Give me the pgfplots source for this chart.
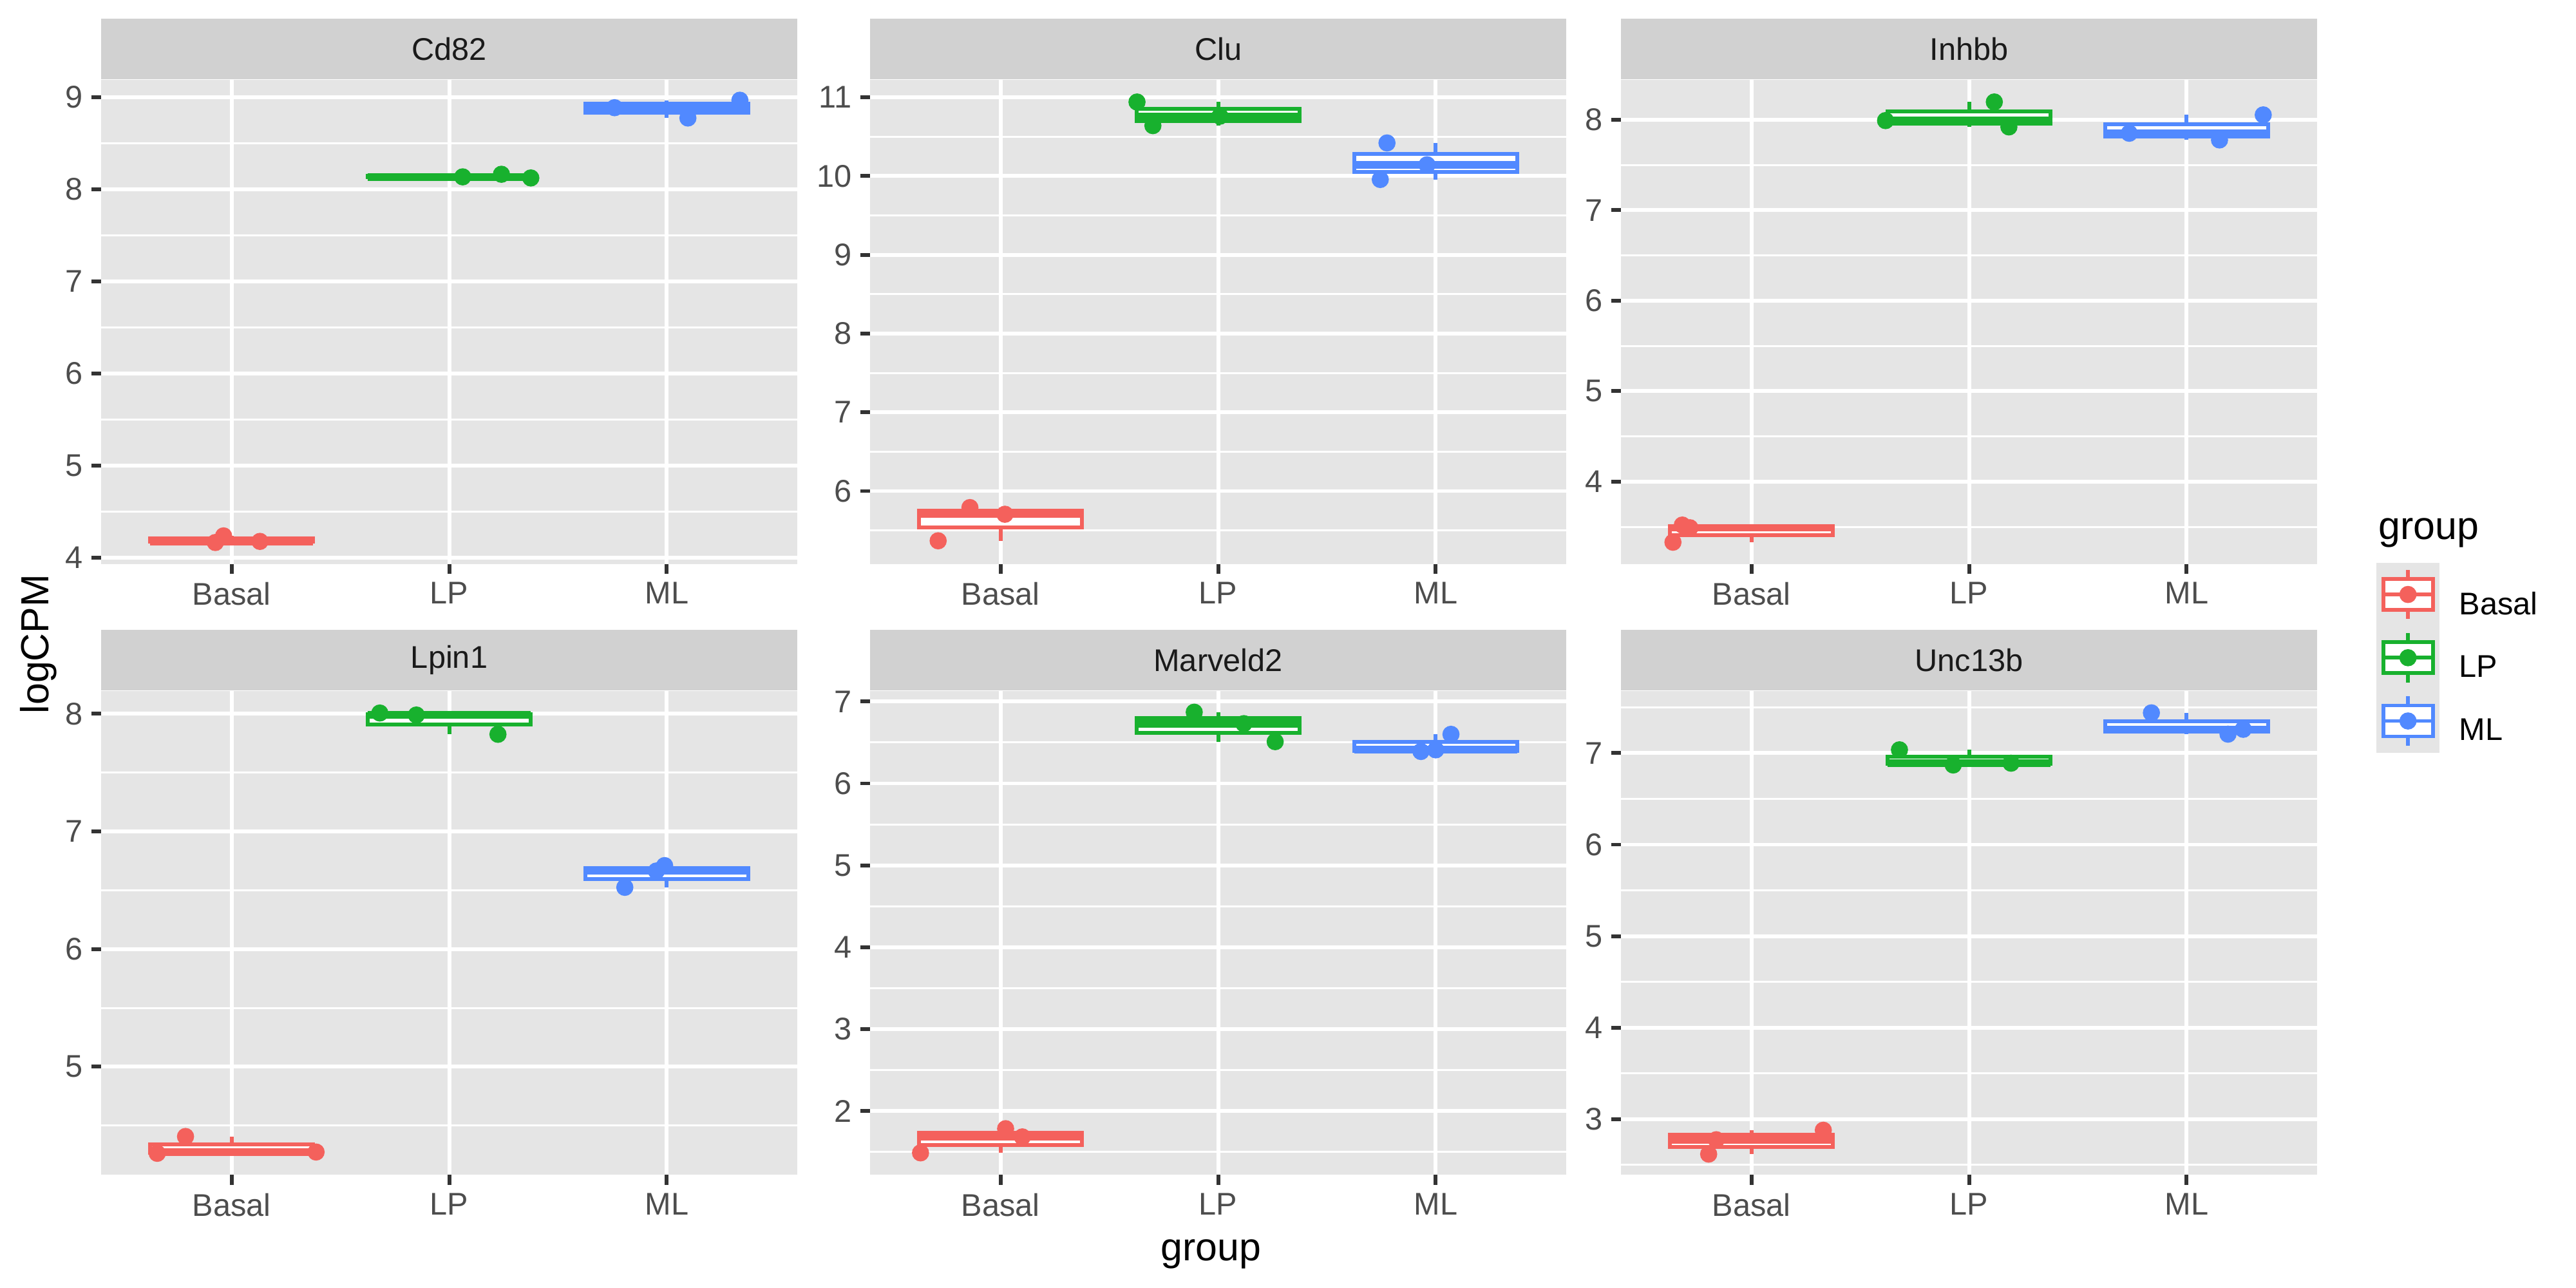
\documentclass[border=0pt]{standalone}
\usepackage{fontspec}
\setmainfont{Liberation Sans}
\usepackage{pgfplots}
\pgfplotsset{compat=1.18}
\usepgfplotslibrary{statistics}

\definecolor{panelgray}{HTML}{E5E5E5}
\definecolor{stripgray}{HTML}{D1D1D1}
\definecolor{grey10}{HTML}{1A1A1A}
\definecolor{grey20}{HTML}{333333}
\definecolor{grey30}{HTML}{4D4D4D}
\definecolor{cRed}{HTML}{F4615C}
\definecolor{cGreen}{HTML}{18B12E}
\definecolor{cBlue}{HTML}{5189FF}

\newcommand{\ticks}{\fontsize{8.8}{10}\selectfont}
\newcommand{\titlefont}{\fontsize{11}{13}\selectfont}

\pgfplotsset{
  gg/.style={
    anchor=south west,
    scale only axis, width=194.6bp, height=135.3bp,
    xmin=0.4, xmax=3.6, xtick={1,2,3}, xticklabels={Basal,LP,ML},
    axis background/.style={fill=panelgray},
    axis line style={draw=none},
    grid=both,
    major grid style={white, line width=1.07pt},
    minor grid style={white, line width=0.53pt},
    tick align=outside, tickpos=left,
    major tick length=2.75pt, minor tick length=0pt,
    tick style={grey20, line width=1.07pt},
    ticklabel style={font=\ticks, text=grey30},
    xticklabel style={inner sep=0pt, yshift=-2.2pt},
    yticklabel style={inner sep=0pt, xshift=-2.2pt},
    /pgf/number format/assume math mode=true,
    every axis title shift=0pt,
    title style={at={(0.5,1)}, anchor=south, yshift=0pt, fill=stripgray,
      minimum width=194.6bp, minimum height=16.87bp, inner sep=0pt,
      font=\ticks, text=grey10},
    boxplot/draw direction=y,
    boxplot/box extend=0.75,
    boxplot/whisker extend=0,
    boxplot/every median/.style={line width=2.13pt},
  },
  pts/.style={only marks, mark=*, mark size=2.2bp, mark options={draw=none}},
}

% colour, position, lower whisker, Q1, median, Q3, upper whisker
\newcommand{\gbox}[7]{%
  \addplot[#1, fill=white, line width=1.07pt,
    boxplot prepared={draw position=#2, lower whisker=#3, lower quartile=#4,
      median=#5, upper quartile=#6, upper whisker=#7}] coordinates {};}

\begin{document}
\begin{tikzpicture}
\useasboundingbox (0,0) rectangle (720bp,360bp);

% Cd82
\begin{axis}[gg, at={(28.26bp,202.37bp)}, title={Cd82},
  ymin=3.932, ymax=9.189, ytick={4,...,9}, minor ytick={4.5,5.5,...,8.5}]
\gbox{cRed}{1}{4.165}{4.171}{4.177}{4.207}{4.237}
\gbox{cGreen}{2}{8.124}{8.130}{8.136}{8.150}{8.164}
\gbox{cBlue}{3}{8.775}{8.831}{8.887}{8.928}{8.968}
\addplot[pts, cRed] coordinates {(0.925,4.165) (0.963,4.237) (1.130,4.177)};
\addplot[pts, cGreen] coordinates {(2.062,8.136) (2.240,8.164) (2.375,8.124)};
\addplot[pts, cBlue] coordinates {(2.760,8.887) (3.097,8.775) (3.336,8.968)};
\end{axis}

% Clu
\begin{axis}[gg, at={(243.18bp,202.37bp)}, title={Clu},
  ymin=5.074, ymax=11.221, ytick={6,...,11}, minor ytick={5.5,6.5,...,10.5}]
\gbox{cRed}{1}{5.368}{5.537}{5.705}{5.748}{5.790}
\gbox{cGreen}{2}{10.64}{10.70}{10.76}{10.85}{10.94}
\gbox{cBlue}{3}{9.956}{10.050}{10.143}{10.282}{10.420}
\addplot[pts, cRed] coordinates {(0.713,5.368) (0.859,5.790) (1.020,5.705)};
\addplot[pts, cGreen] coordinates {(1.627,10.94) (1.700,10.64) (2.008,10.76)};
\addplot[pts, cBlue] coordinates {(2.776,10.420) (2.745,9.956) (2.960,10.143)};
\end{axis}

% Inhbb
\begin{axis}[gg, at={(453.06bp,202.37bp)}, title={Inhbb},
  ymin=3.09, ymax=8.44, ytick={4,...,8}, minor ytick={3.5,4.5,...,7.5}]
\gbox{cRed}{1}{3.33}{3.41}{3.49}{3.505}{3.52}
\gbox{cGreen}{2}{7.92}{7.955}{7.99}{8.093}{8.196}
\gbox{cBlue}{3}{7.776}{7.813}{7.85}{7.952}{8.053}
\addplot[pts, cRed] coordinates {(0.639,3.33) (0.682,3.52) (0.717,3.49)};
\addplot[pts, cGreen] coordinates {(1.616,7.99) (2.116,8.196) (2.183,7.92)};
\addplot[pts, cBlue] coordinates {(2.736,7.85) (3.151,7.776) (3.352,8.053)};
\end{axis}

% Lpin1
\begin{axis}[gg, at={(28.26bp,31.59bp)}, title={Lpin1},
  ymin=4.08, ymax=8.195, ytick={5,...,8}, minor ytick={4.5,5.5,...,7.5}]
\gbox{cRed}{1}{4.264}{4.270}{4.275}{4.341}{4.407}
\gbox{cGreen}{2}{7.826}{7.908}{7.99}{7.999}{8.007}
\gbox{cBlue}{3}{6.525}{6.595}{6.664}{6.687}{6.71}
\addplot[pts, cRed] coordinates {(0.658,4.264) (0.788,4.407) (1.388,4.275)};
\addplot[pts, cGreen] coordinates {(1.681,8.007) (1.849,7.99) (2.224,7.826)};
\addplot[pts, cBlue] coordinates {(2.807,6.525) (2.952,6.664) (2.990,6.71)};
\end{axis}

% Marveld2
\begin{axis}[gg, at={(243.18bp,31.59bp)}, title={Marveld2},
  ymin=1.22, ymax=7.13, ytick={2,...,7}, minor ytick={1.5,2.5,...,6.5}]
\gbox{cRed}{1}{1.49}{1.588}{1.685}{1.735}{1.785}
\gbox{cGreen}{2}{6.51}{6.62}{6.73}{6.80}{6.87}
\gbox{cBlue}{3}{6.39}{6.40}{6.41}{6.505}{6.60}
\addplot[pts, cRed] coordinates {(0.632,1.49) (1.023,1.785) (1.100,1.685)};
\addplot[pts, cGreen] coordinates {(1.890,6.87) (2.118,6.73) (2.262,6.51)};
\addplot[pts, cBlue] coordinates {(2.932,6.39) (3.000,6.41) (3.070,6.60)};
\end{axis}

% Unc13b
\begin{axis}[gg, at={(453.06bp,31.59bp)}, title={Unc13b},
  ymin=2.39, ymax=7.68, ytick={3,...,7}, minor ytick={2.5,3.5,...,7.5}]
\gbox{cRed}{1}{2.618}{2.697}{2.775}{2.827}{2.879}
\gbox{cGreen}{2}{6.87}{6.88}{6.89}{6.963}{7.036}
\gbox{cBlue}{3}{7.207}{7.234}{7.26}{7.35}{7.44}
\addplot[pts, cRed] coordinates {(0.803,2.618) (0.838,2.775) (1.330,2.879)};
\addplot[pts, cGreen] coordinates {(1.680,7.036) (1.927,6.87) (2.193,6.89)};
\addplot[pts, cBlue] coordinates {(2.838,7.44) (3.190,7.207) (3.260,7.26)};
\end{axis}

% legend
\begin{axis}[at={(664.2bp,202.68bp)}, anchor=south west, scale only axis,
  width=1bp, height=1bp, hide axis, xmin=0, xmax=1, ymin=0, ymax=1,
  legend style={at={(0,0)}, anchor=north west, draw=none, fill=none,
    inner sep=0pt, outer sep=0pt, row sep=0pt, column sep=5.5bp,
    font=\ticks, nodes={inner sep=0pt}},
  legend cell align=left,
  legend image code/.code={
    \fill[panelgray] (0bp,-5.49bp) rectangle (17.28bp,11.79bp);
    \draw[line width=1.07pt, fill=white] (1.728bp,-1.17bp) rectangle (15.552bp,7.47bp);
    \draw[line width=1.07pt] (8.64bp,7.47bp) -- (8.64bp,10.06bp)
      (8.64bp,-1.17bp) -- (8.64bp,-3.76bp) (1.728bp,3.15bp) -- (15.552bp,3.15bp);
    \fill (8.64bp,3.15bp) circle (2.2bp);
  }]
\addlegendimage{cRed}\addlegendentry{Basal}
\addlegendimage{cGreen}\addlegendentry{LP}
\addlegendimage{cBlue}\addlegendentry{ML}
\end{axis}

\node[anchor=base west, inner sep=0pt, font=\titlefont] at (664.6bp,209.3bp) {group};
\node[anchor=base, rotate=90, inner sep=0pt, font=\titlefont] at (13.5bp,180bp) {logCPM};
\node[anchor=base, inner sep=0pt, font=\titlefont] at (338.5bp,7.7bp) {group};
\end{tikzpicture}
\end{document}
